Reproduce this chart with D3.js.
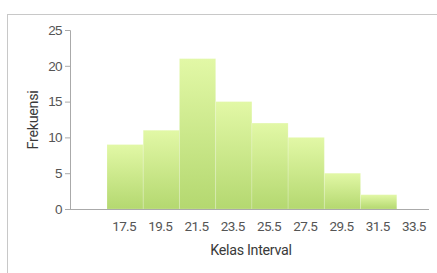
<!doctype html>
<html lang="en">
<head>
<meta charset="UTF-8">
<title>Histogram Kelas Interval</title>
<script src="https://d3js.org/d3.v7.min.js"></script>
<style>
  body { margin: 0; background: #fff; }
  svg { display: block; font-family: Roboto, 'Noto Sans', sans-serif; }
  .axis text { fill: #555; font-size: 13.5px; letter-spacing: -0.6px; }
  .axis path, .axis line { stroke: #aaa; }
</style>
</head>
<body>
<script>
// kelas interval (tepi bawah) dan frekuensi
const labels = ["17.5", "19.5", "21.5", "23.5", "25.5", "27.5", "29.5", "31.5", "33.5"];
const freq = [9, 11, 21, 15, 12, 10, 5, 2];
const yTicks = [0, 5, 10, 15, 20, 25];

const width = 437, height = 273;
const svg = d3.select('body').append('svg')
    .attr('width', width)
    .attr('height', height);

// outer frame
svg.append('rect')
    .attr('x', 7.5).attr('y', 14.5)
    .attr('width', width + 10).attr('height', height)
    .attr('fill', 'none')
    .attr('stroke', '#c8c8c8');

const grad = svg.append('defs').append('linearGradient')
    .attr('id', 'barGrad')
    .attr('x1', 0).attr('y1', 0).attr('x2', 0).attr('y2', 1);
grad.append('stop').attr('offset', '0%').attr('stop-color', '#e2f8a6');
grad.append('stop').attr('offset', '100%').attr('stop-color', '#b4d870');

const x = d3.scaleBand()
    .domain(labels)
    .range([107, 433])
    .padding(0);

const y = d3.scaleLinear()
    .domain([0, 25])
    .range([209, 30]);

// bars
svg.selectAll('.bar')
    .data(freq)
    .enter().append('rect')
    .attr('class', 'bar')
    .attr('x', (d, i) => x(labels[i]))
    .attr('width', x.bandwidth())
    .attr('y', d => y(d))
    .attr('height', d => y(0) - y(d))
    .attr('fill', 'url(#barGrad)')
    .attr('stroke', 'rgba(255,255,255,0.18)')
    .attr('stroke-width', 1);

// y axis
svg.append('g')
    .attr('class', 'axis')
    .attr('transform', 'translate(70,0)')
    .call(d3.axisLeft(y).tickValues(yTicks).tickSize(5).tickPadding(3).tickSizeOuter(5));

// x axis line
svg.append('line')
    .attr('x1', 70).attr('x2', 429)
    .attr('y1', y(0) + 0.5).attr('y2', y(0) + 0.5)
    .attr('stroke', '#aaa');

// x tick labels
svg.append('g')
    .attr('class', 'axis')
    .selectAll('text')
    .data(labels)
    .enter().append('text')
    .attr('x', d => x(d) + x.bandwidth() / 2 - 1)
    .attr('y', 231)
    .attr('text-anchor', 'middle')
    .text(d => d);

svg.append('text')
    .attr('x', 251)
    .attr('y', 255)
    .attr('text-anchor', 'middle')
    .attr('font-size', 14.3)
    .attr('letter-spacing', -0.3)
    .attr('fill', '#3a3a3a')
    .text('Kelas Interval');

svg.append('text')
    .attr('transform', 'translate(38,120) rotate(-90)')
    .attr('text-anchor', 'middle')
    .attr('font-size', 14.3)
    .attr('letter-spacing', -0.3)
    .attr('fill', '#3a3a3a')
    .text('Frekuensi');
</script>
</body>
</html>
